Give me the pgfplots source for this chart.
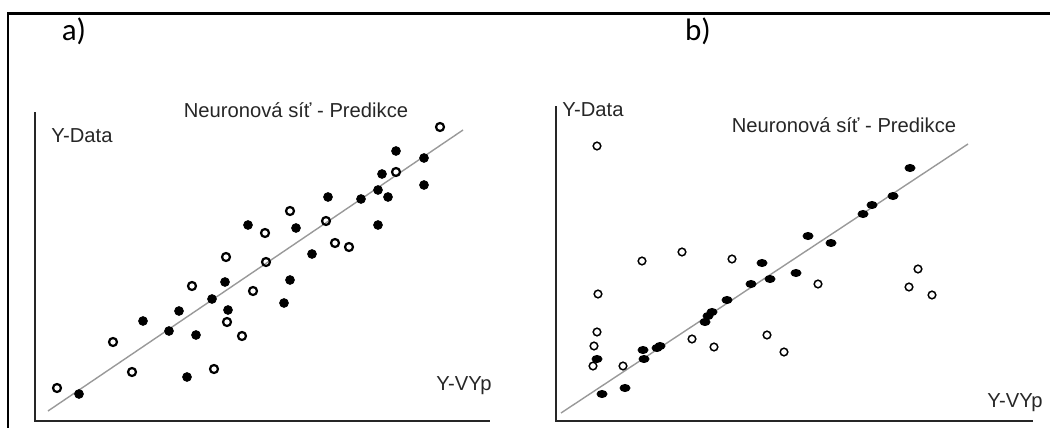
\documentclass[border=0pt]{standalone}
\usepackage{fontspec}
\setmainfont{Liberation Sans}
\newfontfamily\calibri{Carlito}
\usepackage{pgfplots}
\pgfplotsset{compat=1.18}
\begin{document}
\begin{tikzpicture}
\begin{axis}[at={(0,0)},anchor=south west, scale only axis, width=525pt, height=214pt,
  xmin=0,xmax=1050,ymin=0,ymax=428, y dir=reverse, hide axis, clip=false]
% outer frame
\addplot[black, line width=1.4pt, line join=miter] coordinates {(8,428) (8,13.5) (1050,13.5)};
% panel a axes
\addplot[black!85, line width=1pt] coordinates {(35,112) (35,421) (490,421)};
\addplot[black!40, line width=0.7pt] coordinates {(48,411) (463,130)};
% panel b axes
\addplot[black!85, line width=1pt] coordinates {(556,106) (556,421) (1033,421)};
\addplot[black!40, line width=0.7pt] coordinates {(561,413) (968,144)};
% panel a filled
\addplot[only marks, mark=*, mark size=2.2pt, black] table {
x y
396 151
424 158
382 174
424 185
328 197
378 190
361 199
388 197
248 225
296 228
378 225
312 254
290 280
225 282
212 299
284 303
179 311
228 310
143 321
169 331
196 335
187 377
79 394
};
% panel a open
\addplot[only marks, mark=o, mark size=2pt, black, mark options={line width=1.1pt}] table {
x y
440 127
396 172
290 211
265 233
326 221
335 243
349 247
226 257
266 262
192 286
253 291
227 322
242 336
113 342
132 372
214 369
57 388
};
% panel b filled
\addplot[only marks, mark=*, mark size=1.8pt, black, mark options={xscale=1.4}] table {
x y
910 168
893 196
872 205
863 214
808 236
831 243
762 263
796 273
770 279
751 284
727 300
712 312
708 316
705 322
660 346
657 348
643 350
644 359
597 359
625 388
602 394
};
% panel b open
\addplot[only marks, mark=o, mark size=1.9pt, black, mark options={line width=0.75pt}] table {
x y
597 146
682 252
642 261
732 259
918 269
909 287
932 295
818 284
598 294
597 332
692 339
767 335
594 346
714 347
784 352
593 366
623 366
};
% texts
\node[font=\calibri\fontsize{15.5}{18}\selectfont, text=black] at (axis cs:74,31) {a)};
\node[font=\calibri\fontsize{15.5}{18}\selectfont, text=black] at (axis cs:698,31) {b)};
\node[font=\fontsize{10.1}{12}\selectfont, text=black!85] at (axis cs:296,110) {Neuronová síť - Predikce};
\node[font=\fontsize{10.1}{12}\selectfont, text=black!85] at (axis cs:82,136) {Y-Data};
\node[font=\fontsize{10.1}{12}\selectfont, text=black!85] at (axis cs:464,386) {Y-VYp};
\node[font=\fontsize{10.1}{12}\selectfont, text=black!85] at (axis cs:844,125) {Neuronová síť - Predikce};
\node[font=\fontsize{10.1}{12}\selectfont, text=black!85] at (axis cs:593,110) {Y-Data};
\node[font=\fontsize{10.1}{12}\selectfont, text=black!85] at (axis cs:1015,403) {Y-VYp};
\end{axis}
\pgfresetboundingbox
\useasboundingbox (0,0) rectangle (525pt,214pt);
\end{tikzpicture}
\end{document}
